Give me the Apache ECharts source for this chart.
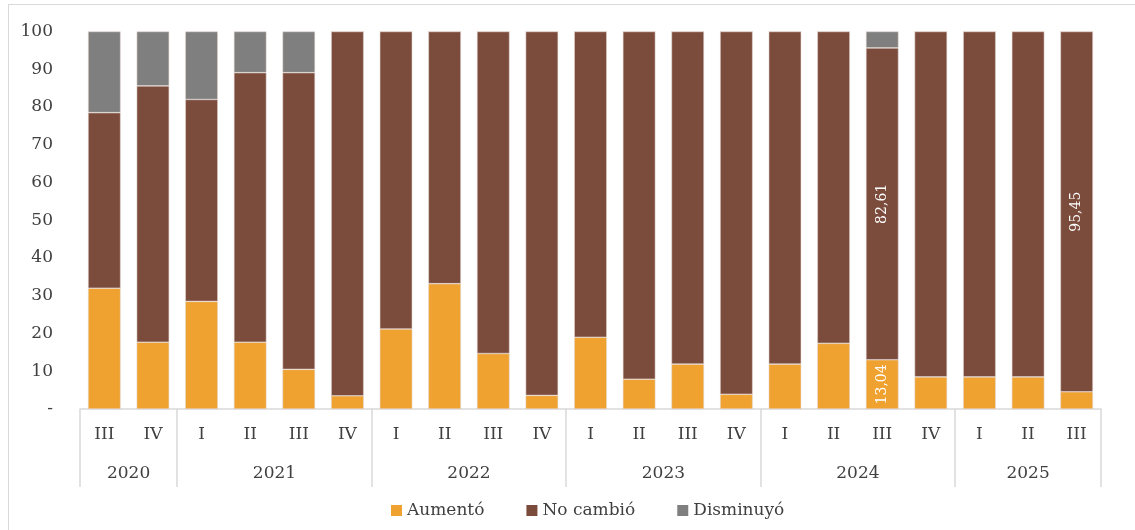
<!DOCTYPE html>
<html>
<head>
<meta charset="utf-8">
<script src="https://cdn.jsdelivr.net/npm/echarts@6/dist/echarts.min.js"></script>
<style>
  html, body { margin: 0; padding: 0; background: #fff; overflow: hidden; }
  #chart { position: absolute; left: 0; top: 0; width: 1135px; height: 530px; }
  #frame { position: absolute; left: 8px; top: 4px; width: 1140px; height: 540px;
           border: 1.5px solid #d9d9d9; pointer-events: none; box-sizing: border-box; }
</style>
</head>
<body>
<div id="chart"></div>
<div id="frame"></div>
<script>
// ---- data ----
const quarters = ['III','IV','I','II','III','IV','I','II','III','IV','I','II','III','IV','I','II','III','IV','I','II','III'];
const years = ['2020','2021','2022','2023','2024','2025'];
const quartersPerYear = [2, 4, 4, 4, 4, 3];
const aumento   = [32.0, 17.7, 28.5, 17.7, 10.5, 3.5, 21.2, 33.2, 14.7, 3.6, 19.0, 7.9, 11.9, 3.9, 11.9, 17.4, 13.04, 8.5, 8.5, 8.5, 4.55];
const noCambio  = [46.5, 67.9, 53.5, 71.4, 78.6, 96.5, 78.8, 66.8, 85.3, 96.4, 81.0, 92.1, 88.1, 96.1, 88.1, 82.6, 82.61, 91.5, 91.5, 91.5, 95.45];
const disminuyo = [21.5, 14.4, 18.0, 10.9, 10.9, 0, 0, 0, 0, 0, 0, 0, 0, 0, 0, 0, 4.35, 0, 0, 0, 0];
const yTicks = [0, 10, 20, 30, 40, 50, 60, 70, 80, 90, 100];
const labeledAumento = [16];
const labeledNoCambio = [16, 20];

// ---- build year axis (half-quarter steps) ----
const nQ = quarters.length;
const halfSteps = [];
for (let i = 0; i <= nQ * 2; i++) halfSteps.push(String(i));
const yearCenterIdx = {};
const boundaryAt = new Set([0]);
let acc = 0;
quartersPerYear.forEach((n, k) => {
  yearCenterIdx[acc * 2 + n] = years[k];
  acc += n;
  boundaryAt.add(acc * 2);
});

const font = 'DejaVu Serif';
const txt = '#404040';
const fmt = v => v.toFixed(2).replace('.', ',');

const chart = echarts.init(document.getElementById('chart'), null, { renderer: 'canvas' });
const barBorder = { borderColor: 'rgba(225,212,205,0.9)', borderWidth: 0.6 };

chart.setOption({
  animation: false,
  textStyle: { fontFamily: font },
  grid: { left: 80, right: 34, top: 31.5, bottom: 121 },
  legend: {
    bottom: 6, left: 386, itemWidth: 11, itemHeight: 11, itemGap: 42, icon: 'rect',
    itemStyle: { borderWidth: 0 },
    textStyle: { fontFamily: font, fontSize: 17, color: txt },
    data: ['Aumentó', 'No cambió', 'Disminuyó']
  },
  xAxis: [
    {
      type: 'category', data: quarters, position: 'bottom',
      axisLine: { show: true, lineStyle: { color: '#d9d9d9', width: 1.5 } },
      axisTick: { show: false },
      axisLabel: { color: txt, fontFamily: font, fontSize: 17, margin: 17, interval: 0 }
    },
    {
      type: 'category', data: halfSteps, position: 'bottom', boundaryGap: false,
      axisLine: { show: false },
      axisTick: { show: true, length: 78, lineStyle: { color: '#d9d9d9', width: 1.5 },
                  interval: (i) => boundaryAt.has(i) },
      axisLabel: { color: txt, fontFamily: font, fontSize: 17, margin: 56,
                   interval: (i) => yearCenterIdx[i] !== undefined,
                   formatter: (v, i) => yearCenterIdx[i] || '' }
    }
  ],
  yAxis: {
    type: 'value', min: yTicks[0], max: yTicks[yTicks.length - 1], interval: yTicks[1] - yTicks[0],
    axisLine: { show: false }, axisTick: { show: false }, splitLine: { show: false },
    axisLabel: { color: txt, fontFamily: font, fontSize: 17, margin: 27,
                 formatter: v => v === 0 ? '-' : String(v) }
  },
  series: [
    {
      name: 'Aumentó', type: 'bar', stack: 't', data: aumento, barCategoryGap: '33%',
      itemStyle: Object.assign({ color: '#EFA22F' }, barBorder),
      label: { show: true, position: 'inside', rotate: 90, color: '#fff', fontFamily: font, fontSize: 14,
               formatter: p => labeledAumento.includes(p.dataIndex) ? fmt(p.value) : '' }
    },
    {
      name: 'No cambió', type: 'bar', stack: 't', data: noCambio,
      itemStyle: Object.assign({ color: '#7B4B3C' }, barBorder),
      label: { show: true, position: 'inside', rotate: 90, color: '#fff', fontFamily: font, fontSize: 14,
               formatter: p => labeledNoCambio.includes(p.dataIndex) ? fmt(p.value) : '' }
    },
    {
      name: 'Disminuyó', type: 'bar', stack: 't', data: disminuyo,
      itemStyle: Object.assign({ color: '#7F7F7F' }, barBorder)
    }
  ]
});
</script>
</body>
</html>
